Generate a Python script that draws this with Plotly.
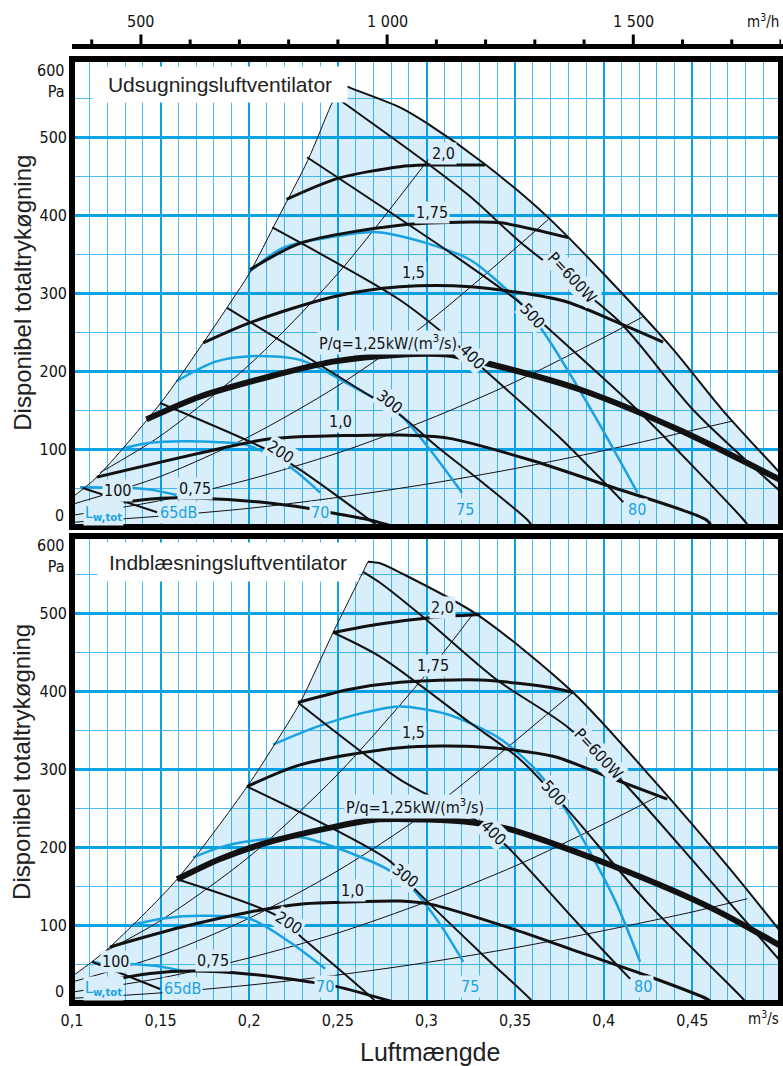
import plotly.graph_objects as go

# ---------------- axis ticks ----------------
Q_TICKS = [0.1, 0.15, 0.2, 0.25, 0.3, 0.35, 0.4, 0.45]
Q_TICK_TEXT = ["0,1", "0,15", "0,2", "0,25", "0,3", "0,35", "0,4", "0,45"]
P_TICKS = [100, 200, 300, 400, 500]
P_TICK_TEXT = ["100", "200", "300", "400", "500"]
M3H_MINOR = [400, 600, 700, 800, 900, 1100, 1200, 1300, 1400, 1600, 1700, 1800]
M3H_MAJOR = [500, 1000, 1500]
M3H_MAJOR_TEXT = ["500", "1 000", "1 500"]

# ---------------- upper panel: Udsugningsluftventilator ----------------
U_TITLE = "Udsugningsluftventilator"
U_LEFT_Q = [0.100, 0.114, 0.150, 0.174, 0.190, 0.200, 0.216, 0.233, 0.246, 0.252]
U_LEFT_P = [38, 64, 159, 236, 290, 325, 395, 470, 540, 568]
U_OUTER_Q = [0.252, 0.257, 0.285, 0.300, 0.333, 0.369, 0.436, 0.467, 0.500]
U_OUTER_P = [568, 563, 538, 518, 465, 396, 236, 150, 68]

U_SFP20_Q = [0.221, 0.250, 0.285, 0.300, 0.333]
U_SFP20_P = [420, 447, 462, 464, 464]
U_SFP175_Q = [0.2005, 0.229, 0.285, 0.325, 0.342, 0.380]
U_SFP175_P = [330, 364, 387, 391, 390, 371]
U_SFP15_Q = [0.174, 0.2005, 0.247, 0.285, 0.325, 0.377, 0.408, 0.4335]
U_SFP15_P = [236, 262, 295, 308, 308, 290, 262, 237]
U_SFP125_Q = [0.142, 0.172, 0.210, 0.247, 0.285, 0.312, 0.334, 0.387, 0.443, 0.500]
U_SFP125_P = [138, 167, 192, 212, 221, 221, 210, 176, 124, 60]
U_SFP10_Q = [0.114, 0.208, 0.223, 0.285, 0.312, 0.3585, 0.405, 0.458, 0.461]
U_SFP10_P = [64, 112, 115, 118, 114, 86, 51, 9, 0]
U_SFP075_Q = [0.129, 0.150, 0.172, 0.206, 0.233, 0.247, 0.268, 0.282]
U_SFP075_P = [32, 37, 37, 32, 24, 18, 9, 0]

U_W100_Q = [0.106, 0.148]
U_W100_P = [50, 19]
U_W200_Q = [0.1497, 0.210, 0.229, 0.268, 0.273]
U_W200_P = [159, 99, 73, 9, 0]
U_W300_Q = [0.1875, 0.2625, 0.285, 0.306, 0.330, 0.357, 0.360]
U_W300_P = [281, 176, 144, 103, 60, 9, 0]
U_W400_Q = [0.213, 0.285, 0.316, 0.333, 0.375, 0.411]
U_W400_P = [384, 291, 236, 201, 115, 32]
U_W500_Q = [0.2326, 0.317, 0.353, 0.368, 0.419, 0.479, 0.482]
U_W500_P = [474, 346, 287, 256, 150, 9, 0]
U_W600_Q = [0.2495, 0.300, 0.325, 0.353, 0.408, 0.4505, 0.500]
U_W600_P = [550, 467, 423, 365, 265, 150, 45]

U_SYS1_Q = [0.116, 0.150, 0.200, 0.250, 0.301]
U_SYS1_P = [70, 117, 208, 325, 471]
U_SYS2_Q = [0.100, 0.150, 0.200, 0.250, 0.300, 0.3686]
U_SYS2_P = [29, 65, 116, 181, 261, 394]
U_SYS3_Q = [0.100, 0.150, 0.200, 0.250, 0.300, 0.350, 0.400, 0.4217]
U_SYS3_P = [15, 34, 61, 95, 137, 186, 243, 269]
U_SYS4_Q = [0.100, 0.150, 0.200, 0.250, 0.300, 0.350, 0.400, 0.450, 0.473]
U_SYS4_P = [6, 14, 24, 38, 55, 75, 98, 124, 136]

U_DB65_Q = [0.1045, 0.134, 0.147, 0.159]
U_DB65_P = [51, 50, 47, 41]
U_DB70_Q = [0.129, 0.144, 0.163, 0.181, 0.199, 0.223, 0.240]
U_DB70_P = [101, 108, 110, 109, 105, 77, 44]
U_DB75_Q = [0.159, 0.181, 0.2005, 0.229, 0.257, 0.285, 0.302, 0.320]
U_DB75_P = [187, 212, 219, 214, 182, 144, 99, 44]
U_DB80_Q = [0.200, 0.219, 0.247, 0.272, 0.300, 0.325, 0.353, 0.366, 0.394, 0.419]
U_DB80_P = [327, 358, 372, 378, 364, 342, 287, 250, 146, 44]

U_SFP_LABELS = ["2,0", "1,75", "1,5", "P/q=1,25kW/(m<sup>3</sup>/s)", "1,0", "0,75"]
U_SFP_LABEL_Q = [0.3094, 0.3032, 0.2924, 0.2783, 0.2512, 0.1694]
U_SFP_LABEL_P = [479, 403, 326, 236, 135, 50]
U_W_LABELS = ["100", "200", "300", "400", "500", "P=600W"]
U_W_LABEL_Q = [0.1254, 0.2174, 0.2790, 0.3257, 0.3596, 0.3822]
U_W_LABEL_P = [47, 97, 161, 219, 271, 320]
U_DB_LABELS = ["L<sub><b>w,tot</b></sub>", "65dB", "70", "75", "80"]
U_DB_LABEL_Q = [0.1175, 0.1598, 0.2400, 0.3218, 0.4188]
U_DB_LABEL_P = [17, 19, 19, 22, 22]

# ---------------- lower panel: Indblæsningsluftventilator ----------------
I_TITLE = "Indblæsningsluftventilator"
I_LEFT_Q = [0.100, 0.1113, 0.1214, 0.1593, 0.1988, 0.2134, 0.2287, 0.2473, 0.2642, 0.267]
I_LEFT_P = [34, 53, 72, 159, 278, 329, 386, 476, 554, 567]
I_OUTER_Q = [0.267, 0.2738, 0.2851, 0.3286, 0.3827, 0.4279, 0.4713, 0.500]
I_OUTER_P = [567, 565, 553, 499, 399, 287, 172, 91]

I_SFP20_Q = [0.2473, 0.2738, 0.302, 0.3303]
I_SFP20_P = [476, 487, 495, 499]
I_SFP175_Q = [0.2275, 0.2569, 0.2851, 0.3303, 0.3681, 0.3827]
I_SFP175_P = [386, 403, 412, 415, 406, 399]
I_SFP15_Q = [0.1988, 0.2287, 0.2851, 0.3303, 0.3714, 0.4019, 0.4358]
I_SFP15_P = [278, 306, 328, 329, 317, 291, 262]
I_SFP125_Q = [0.1593, 0.1835, 0.210, 0.2473, 0.2738, 0.3263, 0.3472, 0.4053, 0.4617, 0.500]
I_SFP125_P = [159, 185, 206, 226, 236, 232, 223, 176, 121, 73]
I_SFP10_Q = [0.1214, 0.1609, 0.2005, 0.2287, 0.2473, 0.2851, 0.302, 0.3489, 0.3867, 0.4245, 0.4584, 0.4612]
I_SFP10_P = [72, 97, 117, 127, 129, 131, 127, 95, 65, 35, 5, 0]
I_SFP075_Q = [0.1175, 0.144, 0.1683, 0.2005, 0.2343, 0.2495, 0.2834]
I_SFP075_P = [28, 38, 41, 37, 27, 21, 0]

I_W100_Q = [0.1113, 0.1497]
I_W100_P = [53, 18]
I_W200_Q = [0.1593, 0.2157, 0.2287, 0.2699, 0.2716]
I_W200_P = [159, 112, 86, 5, 0]
I_W300_Q = [0.1988, 0.2795, 0.2936, 0.3303, 0.3585, 0.3602]
I_W300_P = [278, 182, 146, 65, 5, 0]
I_W400_Q = [0.2275, 0.2851, 0.3291, 0.3455, 0.3867, 0.4149]
I_W400_P = [386, 287, 233, 201, 99, 31]
I_W500_Q = [0.2473, 0.2738, 0.3246, 0.3528, 0.3793, 0.4245, 0.4787, 0.4803]
I_W500_P = [476, 445, 360, 313, 249, 129, 5, 0]
I_W600_Q = [0.2642, 0.2738, 0.2981, 0.3398, 0.3799, 0.4121, 0.4544, 0.500]
I_W600_P = [554, 540, 496, 415, 354, 281, 172, 53]

I_SYS1_Q = [0.116, 0.150, 0.200, 0.250, 0.300, 0.327]
I_SYS1_P = [63, 106, 188, 294, 423, 502]
I_SYS2_Q = [0.100, 0.150, 0.200, 0.250, 0.300, 0.3827]
I_SYS2_P = [27, 61, 109, 170, 245, 399]
I_SYS3_Q = [0.100, 0.150, 0.200, 0.250, 0.300, 0.350, 0.400, 0.4301]
I_SYS3_P = [14, 32, 58, 90, 130, 176, 230, 265]
I_SYS4_Q = [0.100, 0.150, 0.200, 0.250, 0.300, 0.350, 0.400, 0.450, 0.481]
I_SYS4_P = [6, 13, 23, 36, 52, 71, 93, 117, 134]

I_DB65_Q = [0.1113, 0.1158, 0.1327, 0.1497, 0.1626]
I_DB65_P = [53, 51, 50, 47, 41]
I_DB70_Q = [0.1344, 0.1525, 0.1722, 0.2005, 0.223, 0.2428]
I_DB70_P = [101, 109, 112, 108, 78, 44]
I_DB75_Q = [0.1683, 0.1835, 0.2005, 0.2287, 0.2473, 0.2778, 0.2924, 0.3077, 0.3207]
I_DB75_P = [187, 200, 208, 213, 201, 172, 146, 101, 53]
I_DB80_Q = [0.2134, 0.2383, 0.2665, 0.2851, 0.3116, 0.3398, 0.3602, 0.3782, 0.4053, 0.4205]
I_DB80_P = [332, 355, 374, 381, 371, 342, 303, 249, 137, 53]

I_SFP_LABELS = ["2,0", "1,75", "1,5", "P/q=1,25kW/(m<sup>3</sup>/s)", "1,0", "0,75"]
I_SFP_LABEL_Q = [0.3088, 0.3037, 0.2924, 0.2936, 0.2580, 0.1796]
I_SFP_LABEL_P = [508, 433, 347, 253, 144, 54]
I_W_LABELS = ["100", "200", "300", "400", "500", "P=600W"]
I_W_LABEL_Q = [0.1243, 0.2219, 0.2879, 0.3376, 0.3714, 0.3968]
I_W_LABEL_P = [53, 103, 164, 219, 270, 320]
I_DB_LABELS = ["L<sub><b>w,tot</b></sub>", "65dB", "70", "75", "80"]
I_DB_LABEL_Q = [0.1175, 0.1621, 0.2428, 0.3246, 0.4222]
I_DB_LABEL_P = [18, 19, 21, 21, 21]

# ---------------- styles ----------------
FILL = "rgba(0,140,225,0.15)"
LABEL_BG = "#d9eefb"
BLACK = "#111111"
BLUE = "#18a2e2"
GRID_MAJOR = "#0ba3e4"
GRID_MINOR = "#4cbdee"
COND = "Liberation Sans Narrow, DejaVu Sans Condensed, Roboto Condensed, Arial Narrow, Liberation Sans, sans-serif"
SANS = "Liberation Sans, Arial, sans-serif"
W_ANGLES = [0, 33, 38, 45, 48, 47]

fig = go.Figure()

PANELS = [
    dict(xa="x", ya="y",
         left=(U_LEFT_Q, U_LEFT_P), outer=(U_OUTER_Q, U_OUTER_P),
         sfp=[(U_SFP20_Q, U_SFP20_P), (U_SFP175_Q, U_SFP175_P), (U_SFP15_Q, U_SFP15_P),
              (U_SFP10_Q, U_SFP10_P), (U_SFP075_Q, U_SFP075_P)],
         sfp125=(U_SFP125_Q, U_SFP125_P),
         power=[(U_W100_Q, U_W100_P), (U_W200_Q, U_W200_P), (U_W300_Q, U_W300_P),
                (U_W400_Q, U_W400_P), (U_W500_Q, U_W500_P), (U_W600_Q, U_W600_P)],
         sys=[(U_SYS1_Q, U_SYS1_P), (U_SYS2_Q, U_SYS2_P), (U_SYS3_Q, U_SYS3_P), (U_SYS4_Q, U_SYS4_P)],
         db=[(U_DB65_Q, U_DB65_P), (U_DB70_Q, U_DB70_P), (U_DB75_Q, U_DB75_P), (U_DB80_Q, U_DB80_P)],
         sfp_lab=(U_SFP_LABELS, U_SFP_LABEL_Q, U_SFP_LABEL_P),
         w_lab=(U_W_LABELS, U_W_LABEL_Q, U_W_LABEL_P),
         db_lab=(U_DB_LABELS, U_DB_LABEL_Q, U_DB_LABEL_P)),
    dict(xa="x2", ya="y2",
         left=(I_LEFT_Q, I_LEFT_P), outer=(I_OUTER_Q, I_OUTER_P),
         sfp=[(I_SFP20_Q, I_SFP20_P), (I_SFP175_Q, I_SFP175_P), (I_SFP15_Q, I_SFP15_P),
              (I_SFP10_Q, I_SFP10_P), (I_SFP075_Q, I_SFP075_P)],
         sfp125=(I_SFP125_Q, I_SFP125_P),
         power=[(I_W100_Q, I_W100_P), (I_W200_Q, I_W200_P), (I_W300_Q, I_W300_P),
                (I_W400_Q, I_W400_P), (I_W500_Q, I_W500_P), (I_W600_Q, I_W600_P)],
         sys=[(I_SYS1_Q, I_SYS1_P), (I_SYS2_Q, I_SYS2_P), (I_SYS3_Q, I_SYS3_P), (I_SYS4_Q, I_SYS4_P)],
         db=[(I_DB65_Q, I_DB65_P), (I_DB70_Q, I_DB70_P), (I_DB75_Q, I_DB75_P), (I_DB80_Q, I_DB80_P)],
         sfp_lab=(I_SFP_LABELS, I_SFP_LABEL_Q, I_SFP_LABEL_P),
         w_lab=(I_W_LABELS, I_W_LABEL_Q, I_W_LABEL_P),
         db_lab=(I_DB_LABELS, I_DB_LABEL_Q, I_DB_LABEL_P)),
]


def add_line(q, p, xa, ya, color, width, fill=False):
    fig.add_trace(go.Scatter(
        x=q, y=p, mode="lines", xaxis=xa, yaxis=ya,
        line=dict(color=color if not fill else "rgba(0,0,0,0)", width=width if not fill else 0,
                  shape="spline", smoothing=0.8),
        fill="tozeroy" if fill else None, fillcolor=FILL if fill else None,
        hoverinfo="skip", showlegend=False))


annotations = []


def note(**kw):
    base = dict(showarrow=False, xanchor="center", yanchor="middle")
    base.update(kw)
    annotations.append(base)


for pn in PANELS:
    xa, ya = pn["xa"], pn["ya"]
    add_line(*pn["left"], xa, ya, None, 0, fill=True)
    add_line(*pn["outer"], xa, ya, None, 0, fill=True)
    for q, p in pn["sys"]:
        add_line(q, p, xa, ya, BLACK, 1)
    for q, p in pn["db"]:
        add_line(q, p, xa, ya, BLUE, 2.5)
    for q, p in pn["power"]:
        add_line(q, p, xa, ya, BLACK, 2)
    for q, p in pn["sfp"]:
        add_line(q, p, xa, ya, BLACK, 3)
    add_line(*pn["sfp125"], xa, ya, BLACK, 6)
    add_line(*pn["left"], xa, ya, BLACK, 1)
    add_line(*pn["outer"], xa, ya, BLACK, 2)

    for t, q, p in zip(*pn["sfp_lab"]):
        note(x=q, y=p, xref=xa, yref=ya, text=t,
             font=dict(family=COND, size=16, color=BLACK), bgcolor=LABEL_BG, borderpad=1)
    for (t, q, p), ang in zip(zip(*pn["w_lab"]), W_ANGLES):
        note(x=q, y=p, xref=xa, yref=ya, text=t, textangle=ang,
             font=dict(family=COND, size=16, color=BLACK), bgcolor=LABEL_BG, borderpad=1)
    for t, q, p in zip(*pn["db_lab"]):
        note(x=q, y=p, xref=xa, yref=ya, text=t,
             font=dict(family=COND, size=16, color=BLUE), bgcolor=LABEL_BG, borderpad=1)

# panel titles (white boxes)
note(x=0.2087, y=0.9735, xref="paper", yref="paper", text=U_TITLE,
     font=dict(family=SANS, size=21, color="#222"), bgcolor="white", width=252, height=33)
note(x=0.2200, y=0.4672, xref="paper", yref="paper", text=I_TITLE,
     font=dict(family=SANS, size=21, color="#222"), bgcolor="white", width=258, height=36)

# y-axis titles
for yc in [0.752, 0.255]:
    note(x=-0.071, y=yc, xref="paper", yref="paper", text="Disponibel totaltrykøgning",
         textangle=-90, font=dict(family=SANS, size=24, color="#222"))
# x-axis title and unit
note(x=0.505, y=-0.052, xref="paper", yref="paper", text="Luftmængde",
     font=dict(family=SANS, size=25, color="#222"))
note(x=1.0, y=-0.016, xref="paper", yref="paper", text="m<sup>3</sup>/s", xanchor="right",
     font=dict(family=COND, size=15, color=BLACK))

# 600 Pa / 0 labels
for ytop, yzero in [(1.0, 0.5042), (0.4968, 0.0)]:
    note(x=-0.008, y=ytop, xref="paper", yref="paper", text="600<br>Pa",
         xanchor="right", yanchor="top", align="right",
         font=dict(family=COND, size=16, color=BLACK))
    note(x=-0.008, y=yzero, xref="paper", yref="paper", text="0",
         xanchor="right", yanchor="bottom", font=dict(family=COND, size=16, color=BLACK))

# top m3/h axis
shapes = []
Y_AX = (1003 - 46.5) / 944
shapes.append(dict(type="line", xref="paper", yref="paper", x0=0, x1=1.003, y0=Y_AX, y1=Y_AX,
                   line=dict(color="black", width=5)))
for v in M3H_MINOR:
    shapes.append(dict(type="line", xref="x", yref="paper", x0=v / 3600, x1=v / 3600,
                       y0=Y_AX, y1=Y_AX + 7 / 944, line=dict(color="black", width=3)))
for v, t in zip(M3H_MAJOR, M3H_MAJOR_TEXT):
    shapes.append(dict(type="line", xref="x", yref="paper", x0=v / 3600, x1=v / 3600,
                       y0=Y_AX, y1=Y_AX + 12 / 944, line=dict(color="black", width=3)))
    note(x=v / 3600, y=(1003 - 21) / 944, xref="x", yref="paper", text=t,
         font=dict(family=COND, size=16, color=BLACK))
note(x=1.0, y=(1003 - 21) / 944, xref="paper", yref="paper", text="m<sup>3</sup>/h", xanchor="right",
     font=dict(family=COND, size=15, color=BLACK))

# thick panel frames
for y0, y1 in [(0.5042, 1.0), (0.0, 0.4947)]:
    shapes.append(dict(type="rect", xref="paper", yref="paper", x0=0, x1=1, y0=y0, y1=y1,
                       line=dict(color="black", width=6), layer="above"))

grid_x = dict(range=[0.1, 0.5], tickvals=Q_TICKS, showgrid=True, gridcolor=GRID_MAJOR, gridwidth=2.2,
              minor=dict(dtick=0.01, tick0=0.1, showgrid=True, gridcolor=GRID_MINOR, gridwidth=1.3),
              zeroline=False, showline=False, ticks="", fixedrange=True)
grid_y = dict(range=[0, 600], tickvals=P_TICKS, ticktext=P_TICK_TEXT, showgrid=True,
              gridcolor=GRID_MAJOR, gridwidth=2.5,
              minor=dict(dtick=50, tick0=0, showgrid=True, gridcolor=GRID_MINOR, gridwidth=1.3),
              zeroline=False, showline=False, ticks="", ticklabelstandoff=4,
              tickfont=dict(family=COND, size=16, color=BLACK), fixedrange=True)

fig.update_layout(
    width=783, height=1066,
    margin=dict(l=72, r=2, t=59, b=63),
    paper_bgcolor="white", plot_bgcolor="white",
    showlegend=False,
    xaxis=dict(grid_x, domain=[0, 1], anchor="y", showticklabels=False, matches="x2"),
    yaxis=dict(grid_y, domain=[0.5042, 1.0], anchor="x"),
    xaxis2=dict(grid_x, domain=[0, 1], anchor="y2", ticktext=Q_TICK_TEXT, showticklabels=True,
                ticklabelstandoff=6, tickfont=dict(family=COND, size=16, color=BLACK)),
    yaxis2=dict(grid_y, domain=[0.0, 0.4947], anchor="x2"),
    annotations=annotations,
    shapes=shapes,
)

fig.write_html("out.html")
